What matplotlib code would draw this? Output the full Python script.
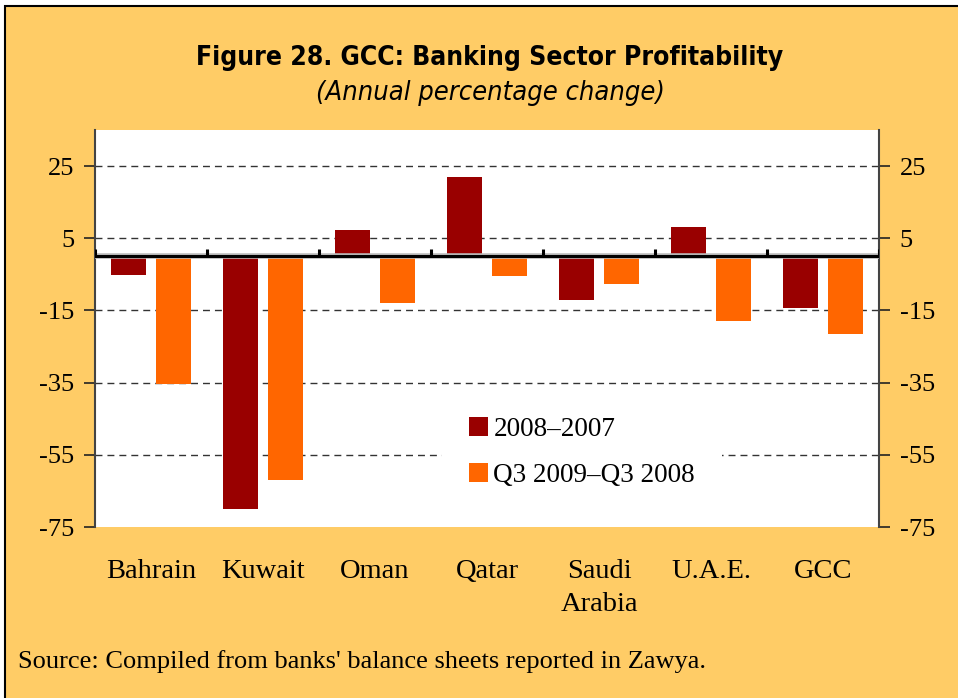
import matplotlib.pyplot as plt
import numpy as np
from matplotlib.patches import Rectangle

countries = ["Bahrain", "Kuwait", "Oman", "Qatar", "Saudi\nArabia", "U.A.E.", "GCC"]
profit_2008_2007 = [-5.3, -70.0, 7.3, 21.9, -12.0, 8.1, -14.2]
profit_q3_2009_2008 = [-35.5, -62.0, -12.9, -5.4, -7.6, -17.9, -21.6]
series_labels = ["2008\u20132007", "Q3 2009\u2013Q3 2008"]
y_ticks = [25, 5, -15, -35, -55, -75]

DARK_RED = "#990000"
ORANGE = "#FF6600"
PANEL = "#FFCC66"
SERIF = ["Liberation Serif", "DejaVu Serif"]

W, H = 958, 698
fig = plt.figure(figsize=(W / 100, H / 100), dpi=100, facecolor="white")

# yellow panel with a black frame on the top/left edges
fig.patches.append(Rectangle((5 / W, -0.05), 1.1, 1 - 6 / H + 0.05,
                             transform=fig.transFigure, facecolor=PANEL,
                             edgecolor="black", linewidth=1.5, zorder=-10))

ax = fig.add_axes([95 / W, 1 - 527 / H, (879 - 95) / W, (527 - 130) / H])
ax.set_zorder(2)
ax.set_facecolor("white")

x = np.arange(len(countries))
width = 0.31
ax.bar(x - 0.2, profit_2008_2007, width, color=DARK_RED, label=series_labels[0], zorder=3)
ax.bar(x + 0.2, profit_q3_2009_2008, width, color=ORANGE, label=series_labels[1], zorder=3)

ax.set_xlim(-0.5, len(countries) - 0.5)
ax.set_ylim(-75, 35)

# dashed gridlines at the tick values
for v in y_ticks[:-1]:
    ax.axhline(v, color="#333333", linewidth=1.0, dashes=(5, 3.6), zorder=1)

# zero line with upward category separators
ax.axhline(0, color="#bbbbbb", linewidth=4, zorder=4)
ax.axhline(0, color="black", linewidth=2.2, zorder=5)
bounds = np.arange(len(countries) + 1) - 0.5
ax.vlines(bounds, 0, 2.0, color="black", linewidth=2.2, zorder=5)

for side in ["top", "bottom"]:
    ax.spines[side].set_visible(False)
for side in ["left", "right"]:
    ax.spines[side].set_color("#444444")
    ax.spines[side].set_linewidth(1.5)

ax.set_xticks(x)
ax.set_xticklabels(countries, fontfamily=SERIF, fontsize=20.5, linespacing=1.45)
ax.tick_params(axis="x", length=0, pad=23)

ax.set_yticks(y_ticks)
ax.set_yticklabels([str(v) for v in y_ticks], fontfamily=SERIF, fontsize=19)
ax.tick_params(axis="y", which="both", direction="out", length=8, width=1.2,
               color="#222222", left=True, right=True, labelleft=True,
               labelright=True, pad=7)

leg = ax.legend(loc="upper left", bbox_to_anchor=(0.4426, 0.345), frameon=True,
                facecolor="white", edgecolor="none", framealpha=1,
                prop={"family": SERIF, "size": 19.5}, handlelength=0.7,
                handleheight=0.7, handletextpad=0.2, labelspacing=0.78,
                borderpad=1.0, borderaxespad=0)
leg.set_zorder(6)

fig.text(490 / W, 1 - 58 / H, "Figure 28. GCC: Banking Sector Profitability",
         ha="center", va="center", fontsize=19, fontweight="bold",
         fontstretch="condensed", family=["DejaVu Sans"])
fig.text(490 / W, 1 - 93 / H, "(Annual percentage change)",
         ha="center", va="center", fontsize=19.5, style="italic",
         fontstretch="condensed", family=["DejaVu Sans"])
fig.text(18 / W, 1 - 662 / H,
         "Source: Compiled from banks' balance sheets reported in Zawya.",
         ha="left", va="center", fontsize=19, family=SERIF)

fig.savefig("out.png", dpi=100, facecolor=fig.get_facecolor())
